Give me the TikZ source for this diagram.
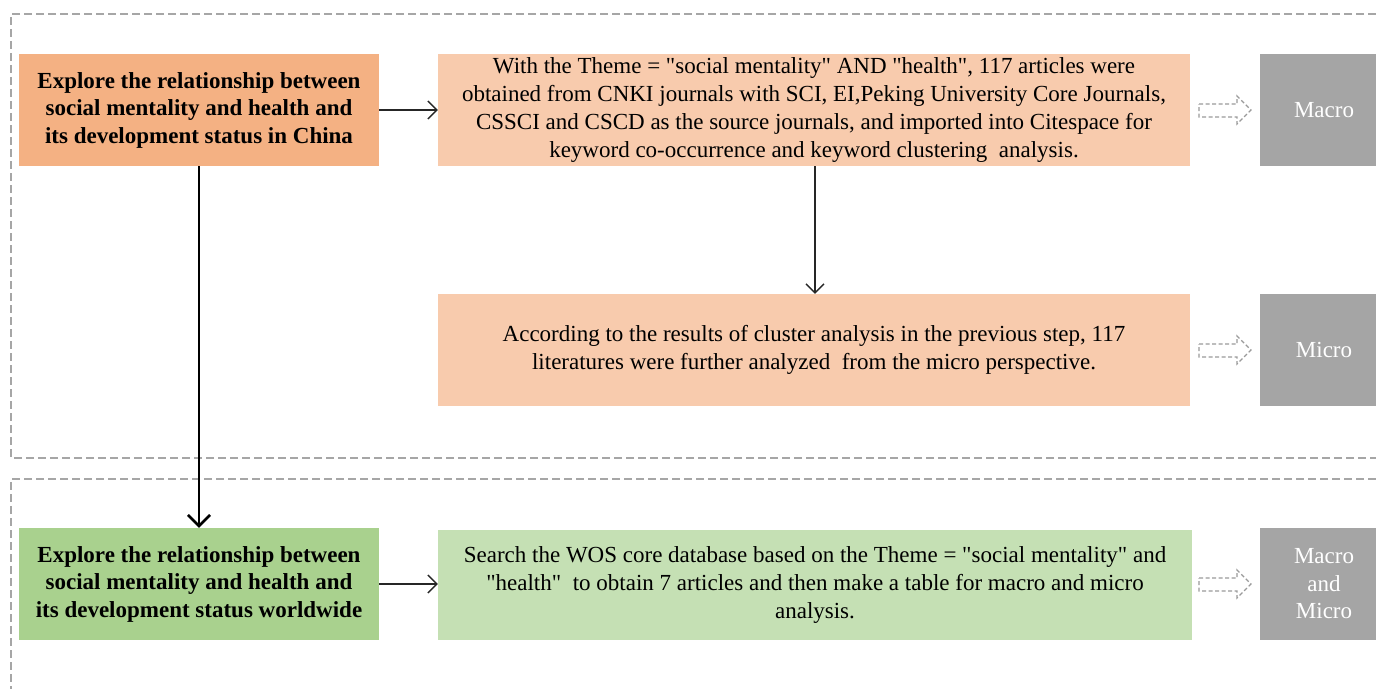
\documentclass[tikz,border=0pt]{standalone}
\usepackage{fontspec}
\setmainfont{Liberation Serif}[Ligatures=TeXOff]
\usetikzlibrary{arrows.meta}
\definecolor{orA}{HTML}{F4B183}
\definecolor{orB}{HTML}{F8CBAD}
\definecolor{grA}{HTML}{A9D18E}
\definecolor{grB}{HTML}{C5E0B4}
\definecolor{gbox}{HTML}{A5A5A5}
\definecolor{dashg}{HTML}{A6A6A6}
\definecolor{arrg}{HTML}{9A9A9A}
\tikzset{
  box/.style={rectangle, inner sep=0pt, align=center, minimum height=112pt, font=\fontsize{23}{28}\selectfont},
  headbox/.style={box, minimum width=360pt, font=\bfseries\fontsize{23}{27.5}\selectfont},
  grey/.style={box, fill=gbox, minimum width=128pt, text=white, font=\fontsize{23}{27.5}\selectfont},
  frame/.style={draw=dashg, line width=1.8pt, dash pattern=on 8pt off 4pt},
  blockarrow/.style={draw=arrg, line width=1.3pt, dash pattern=on 4pt off 2.5pt},
  conn/.style={draw=black!85, line width=1.3pt, -{Straight Barb[length=9pt,width=18pt,line width=1.3pt]}},
  thick conn/.style={draw=black, line width=2.6pt, -{Straight Barb[length=11pt,width=22pt,line width=2.6pt]}}
}
\begin{document}
\begin{tikzpicture}[x=1pt,y=-1pt]
\useasboundingbox (0,0) rectangle (1376,688);
\clip (0,0) rectangle (1376,688);
% frames
\draw[frame] (1400,14) -- (11,14) -- (11,458) -- (1400,458);
\draw[frame] (1400,479) -- (11,479) -- (11,700);
% nodes
\node[headbox, fill=orA] (china) at (199,110) {Explore the relationship between\\social mentality and health and\\its development status in China};
\node[box, fill=orB, minimum width=752pt] (cnki) at (814,110) {With the Theme = "social mentality" AND "health", 117 articles were\\obtained from CNKI journals with SCI, EI,Peking University Core Journals,\\CSSCI and CSCD as the source journals, and imported into Citespace for\\keyword co-occurrence and keyword clustering\ \ analysis.};
\node[grey] (macro) at (1324,110) {Macro};
\node[box, fill=orB, minimum width=752pt] (micro text) at (814,350) {According to the results of cluster analysis in the previous step, 117\\literatures were further analyzed\ \ from the micro perspective.};
\node[grey] (micro) at (1324,350) {Micro};
\node[headbox, fill=grA] (world) at (199,584) {Explore the relationship between\\social mentality and health and\\its development status worldwide};
\node[box, fill=grB, minimum width=754pt, minimum height=110pt] (wos) at (815,585) {Search the WOS core database based on the Theme = "social mentality" and\\"health"\ \ to obtain 7 articles and then make a table for macro and micro\\analysis.};
\node[grey] (both) at (1324,584) {Macro\\and\\Micro};
% connectors
\draw[conn] (china.east) -- (cnki.west);
\draw[conn] (world.east) -- (wos.west |- world.east);
\draw[conn] (cnki.south -| 815,0) -- (micro text.north -| 815,0);
\draw[thick conn] (china.south) -- (world.north);
% block arrows
\foreach \y in {110,350,584}{
  \draw[blockarrow] (1199,\y-6) -- (1237,\y-6) -- (1237,\y-14) -- (1251,\y) -- (1237,\y+14) -- (1237,\y+7) -- (1199,\y+7) -- cycle;
}
\end{tikzpicture}
\end{document}
